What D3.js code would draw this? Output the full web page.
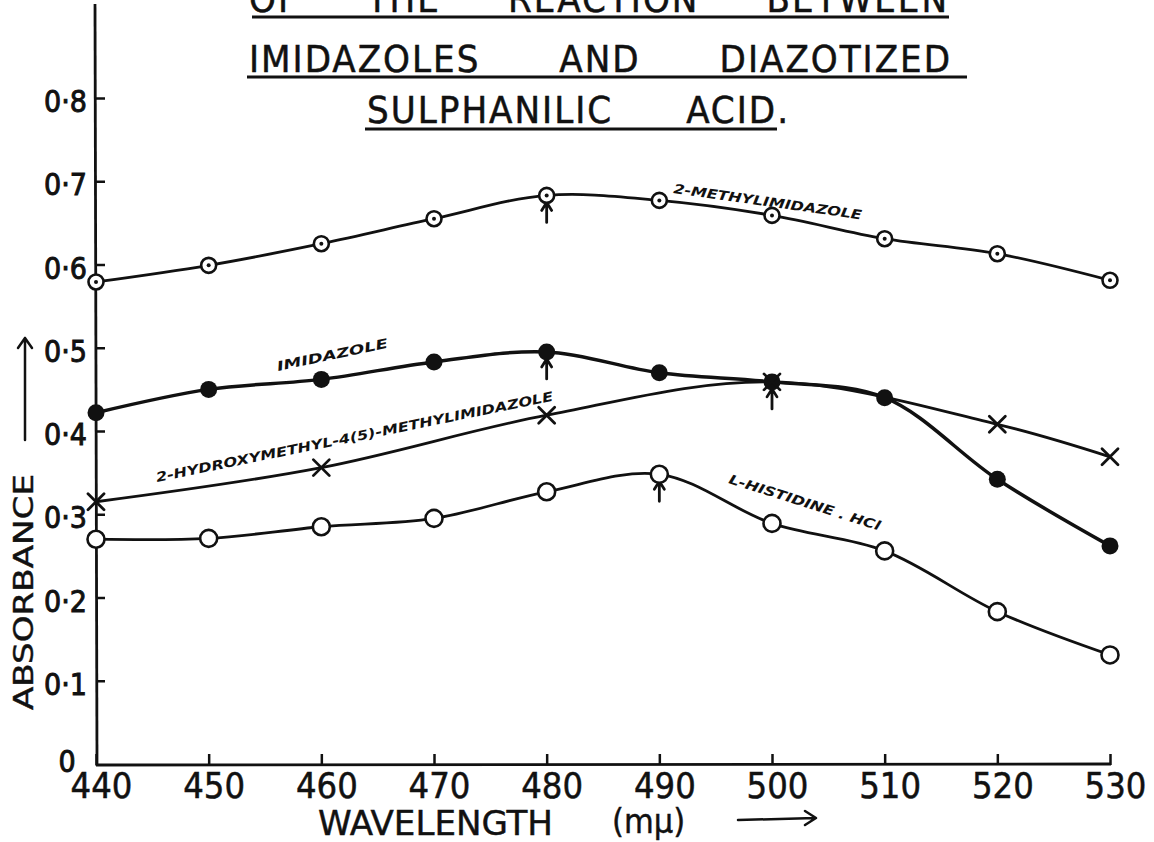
<!DOCTYPE html>
<html>
<head>
<meta charset="utf-8">
<script src="https://cdn.jsdelivr.net/npm/d3@7"></script>
<style>
  html, body { margin: 0; padding: 0; background: #fff; }
  svg { display: block; }
</style>
</head>
<body>
<script>
// ---------------- DATA ----------------
const wavelengths = [440, 450, 460, 470, 480, 490, 500, 510, 520, 530];
const methylImidazole = [0.579, 0.599, 0.625, 0.655, 0.683, 0.677, 0.659, 0.631, 0.613, 0.581];
const imidazole       = [0.422, 0.450, 0.462, 0.483, 0.495, 0.470, 0.459, 0.440, 0.342, 0.262];
const hydroxyWavelengths = [440, 460, 480, 500, 520, 530];
const hydroxyMethyl      = [0.315, 0.356, 0.419, 0.459, 0.408, 0.369];
const histidine       = [0.270, 0.271, 0.285, 0.295, 0.327, 0.348, 0.289, 0.256, 0.183, 0.131];

const yTickValues = [0.1, 0.2, 0.3, 0.4, 0.5, 0.6, 0.7, 0.8];
const yTickLabels = ["0·1", "0·2", "0·3", "0·4", "0·5", "0·6", "0·7", "0·8"];
const xTickValues = wavelengths;

const titleLines = [
  ["OF", "THE", "REACTION", "BETWEEN"],
  ["IMIDAZOLES", "AND", "DIAZOTIZED"],
  ["SULPHANILIC", "ACID."]
];
const seriesNames = ["2-METHYLIMIDAZOLE", "IMIDAZOLE", "2-HYDROXYMETHYL-4(5)-METHYLIMIDAZOLE", "L-HISTIDINE . HCl"];
// wavelength of absorption maximum (arrow) for each series
const peakWavelengths = [480, 480, 500, 490];

// ---------------- SETUP ----------------
const W = 1154, H = 842;
const FONT = "'DejaVu Sans Condensed', 'DejaVu Sans', sans-serif";
const HAND = "'DejaVu Sans', sans-serif";

const svg = d3.select("body").append("svg")
  .attr("width", W).attr("height", H)
  .style("background", "#fff");

const x = d3.scaleLinear().domain([440, 530]).range([96, 1110]);
const y = d3.scaleLinear().domain([0, 0.8]).range([764, 98]);

// ---------------- TITLE ----------------
const titleSpans = [
  { x0: 249, x1: 949, base: 12, ul: 17, u0: 252, u1: 949 },
  { x0: 249, x1: 952, base: 72, ul: 77, u0: 247, u1: 967 },
  { x0: 367, x1: 790, base: 123, ul: 129, u0: 365, u1: 777 }
];
const titleG = svg.append("g");
titleLines.forEach((words, i) => {
  const s = titleSpans[i];
  const texts = words.map(w => titleG.append("text")
    .attr("y", s.base)
    .style("font-family", FONT)
    .style("font-stretch", "condensed")
    .style("font-size", "38px")
    .style("letter-spacing", "2px")
    .attr("fill", "#111")
    .attr("stroke", "#111").attr("stroke-width", 0.5)
    .text(w));
  const widths = texts.map(t => t.node().getComputedTextLength());
  const total = widths.reduce((a, b) => a + b, 0);
  const gap = words.length > 1 ? (s.x1 - s.x0 - total) / (words.length - 1) : 0;
  let cx = s.x0;
  texts.forEach((t, j) => { t.attr("x", cx); cx += widths[j] + gap; });
  titleG.append("line")
    .attr("x1", s.u0).attr("x2", s.u1).attr("y1", s.ul).attr("y2", s.ul)
    .attr("stroke", "#111").attr("stroke-width", 3);
});

// ---------------- AXES ----------------
const yAxis = d3.axisLeft(y)
  .tickValues(yTickValues)
  .tickFormat((d, i) => yTickLabels[i])
  .tickSizeInner(-9).tickSizeOuter(0).tickPadding(9);
const gy = svg.append("g").attr("transform", "translate(96,0)").call(yAxis);
gy.select(".domain").remove();
gy.selectAll(".tick line").attr("stroke", "#111").attr("stroke-width", 2.5);
gy.selectAll(".tick text")
  .style("font-family", FONT).style("font-stretch", "condensed")
  .style("font-size", "30px").attr("fill", "#111")
  .attr("stroke", "#111").attr("stroke-width", 0.9)
  .attr("dy", "0.45em");

svg.append("line").attr("x1", 95).attr("x2", 97).attr("y1", 4).attr("y2", 766)
  .attr("stroke", "#111").attr("stroke-width", 2.8);

const xAxis = d3.axisBottom(x)
  .tickValues(xTickValues)
  .tickFormat(d3.format("d"))
  .tickSizeInner(-11).tickSizeOuter(0).tickPadding(7);
const gx = svg.append("g").attr("transform", "translate(0,765)").call(xAxis);
gx.select(".domain").remove();
gx.selectAll(".tick line").attr("stroke", "#111").attr("stroke-width", 2.5);
gx.selectAll(".tick text")
  .style("font-family", FONT).style("font-stretch", "condensed")
  .style("font-size", "36px").attr("fill", "#111")
  .attr("stroke", "#111").attr("stroke-width", 0.5)
  .attr("dx", 5);
svg.append("line").attr("x1", 96).attr("x2", 1111).attr("y1", 765).attr("y2", 764)
  .attr("stroke", "#111").attr("stroke-width", 2.8);

// zero label
svg.append("text").attr("x", 67).attr("y", 772).attr("text-anchor", "middle")
  .style("font-family", FONT).style("font-size", "30px").attr("fill", "#111")
  .attr("stroke", "#111").attr("stroke-width", 0.9).text("0");

// axis titles
svg.append("text")
  .attr("transform", "translate(33,592) rotate(-90)")
  .attr("text-anchor", "middle")
  .attr("textLength", 236).attr("lengthAdjust", "spacingAndGlyphs")
  .style("font-family", FONT).style("font-size", "26px").attr("fill", "#111")
  .attr("stroke", "#111").attr("stroke-width", 0.4)
  .text("ABSORBANCE");
// up arrow
svg.append("path").attr("d", "M25,440 L25,338 M18,348 L25,338 L32,348")
  .attr("fill", "none").attr("stroke", "#111").attr("stroke-width", 2.5)
  .attr("stroke-linecap", "round").attr("stroke-linejoin", "round");

svg.append("text").attr("x", 318).attr("y", 835)
  .attr("textLength", 235).attr("lengthAdjust", "spacingAndGlyphs")
  .style("font-family", FONT).style("font-size", "34px").attr("fill", "#111")
  .attr("stroke", "#111").attr("stroke-width", 0.4)
  .text("WAVELENGTH");
svg.append("text").attr("x", 612).attr("y", 833)
  .style("font-family", FONT).style("font-size", "34px").attr("fill", "#111")
  .attr("stroke", "#111").attr("stroke-width", 0.4)
  .text("(mμ)");
svg.append("path").attr("d", "M738,820 L815,818 M805,811 L816,818 L805,825")
  .attr("fill", "none").attr("stroke", "#111").attr("stroke-width", 2.5)
  .attr("stroke-linecap", "round").attr("stroke-linejoin", "round");

// ---------------- SERIES ----------------
const curve = d3.curveCatmullRom.alpha(0.5);
const line = d3.line().x(d => x(d[0])).y(d => y(d[1])).curve(curve);

const series = [
  { wl: wavelengths, v: methylImidazole, marker: "dot", width: 2.8 },
  { wl: wavelengths, v: imidazole, marker: "filled", width: 3.5 },
  { wl: hydroxyWavelengths, v: hydroxyMethyl, marker: "cross", width: 2.8 },
  { wl: wavelengths, v: histidine, marker: "open", width: 2.8 }
];

const lineG = svg.append("g");
series.forEach(s => {
  const pts = s.wl.map((w, i) => [w, s.v[i]]);
  lineG.append("path").datum(pts)
    .attr("d", line).attr("fill", "none")
    .attr("stroke", "#111").attr("stroke-width", s.width)
    .attr("stroke-linejoin", "round").attr("stroke-linecap", "round");
});

// peak arrows
series.forEach((s, k) => {
  const w = peakWavelengths[k];
  const i = s.wl.indexOf(w);
  const cx = x(w), cy = y(s.v[i]);
  svg.append("path")
    .attr("d", `M${cx},${cy + 27} L${cx},${cy + 7} M${cx - 5},${cy + 15} L${cx},${cy + 7} L${cx + 5},${cy + 15}`)
    .attr("fill", "none").attr("stroke", "#111").attr("stroke-width", 2.8)
    .attr("stroke-linecap", "round");
});

// markers
const markG = svg.append("g");
series.forEach(s => {
  s.wl.forEach((w, i) => {
    const cx = x(w), cy = y(s.v[i]);
    if (s.marker === "dot") {
      markG.append("circle").attr("cx", cx).attr("cy", cy).attr("r", 7.5)
        .attr("fill", "#fff").attr("stroke", "#111").attr("stroke-width", 2.6);
      markG.append("circle").attr("cx", cx).attr("cy", cy).attr("r", 2).attr("fill", "#111");
    } else if (s.marker === "filled") {
      markG.append("circle").attr("cx", cx).attr("cy", cy).attr("r", 8.5).attr("fill", "#111");
    } else if (s.marker === "open") {
      markG.append("circle").attr("cx", cx).attr("cy", cy).attr("r", 8.5)
        .attr("fill", "#fff").attr("stroke", "#111").attr("stroke-width", 2.6);
    } else if (s.marker === "cross") {
      markG.append("path")
        .attr("d", `M${cx - 8},${cy - 8} L${cx + 8},${cy + 8} M${cx - 8},${cy + 8} L${cx + 8},${cy - 8}`)
        .attr("stroke", "#111").attr("stroke-width", 2.8).attr("stroke-linecap", "round");
    }
  });
});

// ---------------- SERIES LABELS ----------------
const labelPos = [
  { x: 673, y: 193, a: 8, len: 190 },
  { x: 278, y: 371, a: -12, len: 113 },
  { x: 157, y: 482, a: -11.6, len: 405 },
  { x: 728, y: 483, a: 17.5, len: 158 }
];
seriesNames.forEach((name, i) => {
  const p = labelPos[i];
  svg.append("text")
    .attr("transform", `translate(${p.x},${p.y}) rotate(${p.a})`)
    .attr("textLength", p.len).attr("lengthAdjust", "spacingAndGlyphs")
    .style("font-family", HAND).style("font-style", "italic").style("font-weight", "bold")
    .style("font-size", "13px").attr("fill", "#111")
    .text(name);
});
</script>
</body>
</html>
